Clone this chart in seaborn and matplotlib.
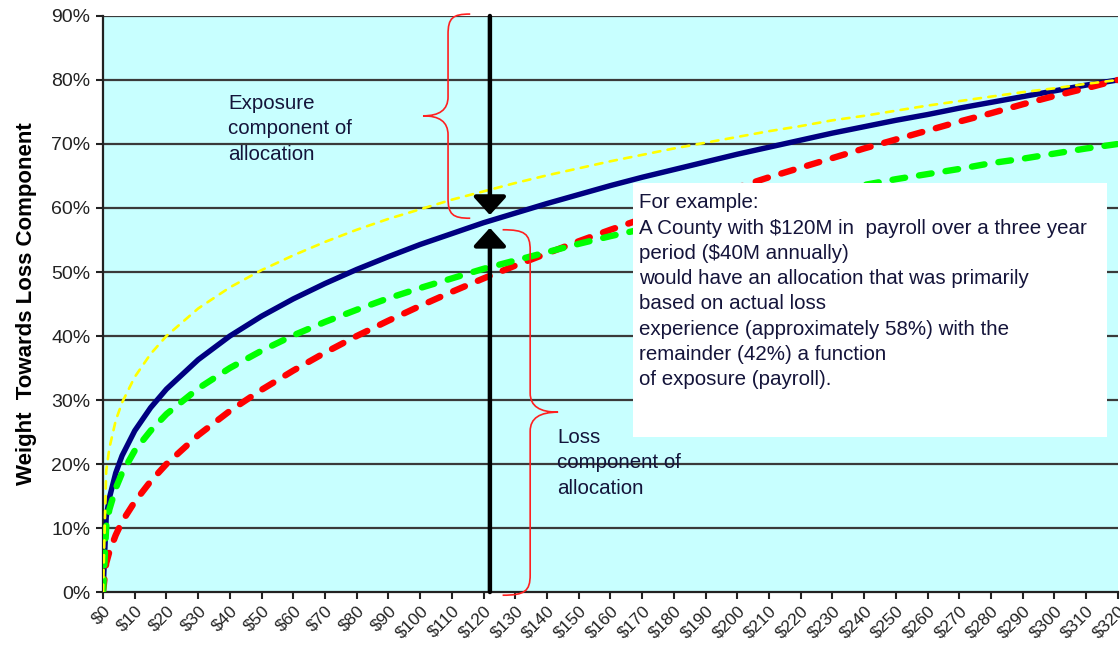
import matplotlib
matplotlib.use("Agg")
import matplotlib.pyplot as plt
import pandas as pd
import seaborn as sns
from matplotlib.path import Path
from matplotlib.patches import PathPatch, Rectangle

# Three-year payroll ($M) and weight given to the loss component (%)
payroll = [0, 1, 2, 4, 6, 10, 15, 20, 30, 40, 50, 60, 70, 80, 90, 100, 110, 120,
           130, 140, 150, 160, 170, 180, 190, 200, 210, 220, 230, 240, 250, 260,
           270, 280, 290, 300, 310, 320]

weight_navy = [0, 11.7, 14.7, 18.6, 21.3, 25.2, 28.8, 31.7, 36.3, 40.0, 43.1, 45.8,
               48.2, 50.4, 52.4, 54.3, 56.0, 57.7, 59.2, 60.7, 62.1, 63.5, 64.8, 66.0,
               67.2, 68.4, 69.5, 70.6, 71.7, 72.7, 73.7, 74.6, 75.6, 76.5, 77.4, 78.3,
               79.2, 80.0]

weight_green = [0, 10.2, 12.9, 16.2, 18.6, 22.1, 25.2, 27.8, 31.8, 35.0, 37.7, 40.1,
                42.2, 44.1, 45.9, 47.5, 49.0, 50.5, 51.8, 53.1, 54.4, 55.6, 56.7, 57.8,
                58.8, 59.8, 60.8, 61.8, 62.7, 63.6, 64.5, 65.3, 66.1, 67.0, 67.7, 68.5,
                69.3, 70.0]

weight_red = [0, 4.5, 6.3, 8.9, 11.0, 14.1, 17.3, 20.0, 24.5, 28.3, 31.6, 34.6,
              37.4, 40.0, 42.4, 44.7, 46.9, 49.0, 51.0, 52.9, 54.8, 56.6, 58.3, 60.0,
              61.6, 63.2, 64.8, 66.3, 67.8, 69.3, 70.7, 72.1, 73.5, 74.8, 76.2, 77.5,
              78.7, 80.0]

weight_yellow = [0, 18.9, 22.5, 26.8, 29.6, 33.6, 37.2, 40.0, 44.3, 47.6, 50.3, 52.6,
                 54.7, 56.6, 58.3, 59.8, 61.3, 62.6, 63.9, 65.1, 66.2, 67.3, 68.3, 69.3,
                 70.2, 71.1, 72.0, 72.8, 73.7, 74.4, 75.2, 76.0, 76.7, 77.4, 78.1, 78.7,
                 79.4, 80.0]

x_ticks = list(range(0, 330, 10))
x_tick_labels = ["\\$" + str(v) for v in x_ticks]
y_ticks = list(range(0, 100, 10))
y_tick_labels = [f"{v}%" for v in y_ticks]

example_payroll = 122
example_weight = 57.7

sns.set_style("ticks", {"axes.facecolor": "#C8FFFF"})
plt.rcParams["font.family"] = ["Liberation Sans", "DejaVu Sans"]

fig = plt.figure(figsize=(11.2, 6.5), dpi=100)
ax = fig.add_axes([0.092, 0.0892, 0.906, 0.8862])

# grid lines
for y in y_ticks[1:]:
    ax.axhline(y, color="#3a3a3a", lw=1.6, zorder=1)

series = [
    (weight_navy, "#000080", 3.9, "-", 2),
    (weight_red, "#FF0000", 4.6, (0, (2.0, 2.2)), 3),
    (weight_green, "#00FF00", 4.6, (0, (2.0, 2.2)), 3.1),
    (weight_yellow, "#FFFF00", 1.9, (0, (2.8, 2.8)), 3.2),
]
for values, color, lw, ls, z in series:
    df = pd.DataFrame({"payroll": payroll, "weight": values})
    sns.lineplot(data=df, x="payroll", y="weight", ax=ax, color=color, lw=lw,
                 linestyle=ls, dash_capstyle="round", solid_capstyle="round",
                 zorder=z, clip_on=True)

# explanatory white box
ax.add_patch(Rectangle((167.2, 24.2), 149.5, 39.7, facecolor="white",
                       edgecolor="none", zorder=5))
text_color = "#14143a"
text_size = 14.8
text_spacing = 1.42
ax.text(169.0, 62.3,
        "For example:\n"
        "A County with \\$120M in  payroll over a three year\n"
        "period (\\$40M annually)\n"
        "would have an allocation that was primarily\n"
        "based on actual loss\n"
        "experience (approximately 58%) with the\n"
        "remainder (42%) a function\n"
        "of exposure (payroll).",
        fontsize=text_size, color=text_color, va="top", ha="left",
        linespacing=text_spacing, zorder=6)

ax.text(39.4, 77.8, "Exposure\ncomponent of\nallocation", fontsize=text_size,
        color=text_color, va="top", ha="left", linespacing=text_spacing, zorder=6)
ax.text(143.2, 25.6, "Loss\ncomponent of\nallocation", fontsize=text_size,
        color=text_color, va="top", ha="left", linespacing=text_spacing, zorder=6)

# arrows pointing at the example point
arrow_style = "-|>,head_length=0.55,head_width=0.5"
ax.annotate("", xy=(example_payroll, example_weight + 1.2), xytext=(example_payroll, 90),
            arrowprops=dict(arrowstyle=arrow_style, color="black", lw=3.2,
                            mutation_scale=20, shrinkA=0, shrinkB=0),
            zorder=7, annotation_clip=False)
ax.annotate("", xy=(example_payroll, example_weight - 0.8), xytext=(example_payroll, 0),
            arrowprops=dict(arrowstyle=arrow_style, color="black", lw=3.2,
                            mutation_scale=20, shrinkA=0, shrinkB=0),
            zorder=7, annotation_clip=False)

# curly braces
def brace(x_end, x_mid, x_tip, y_top, y_tip, y_bot):
    verts = [
        (x_end, y_top),
        (x_mid + (x_end - x_mid) * 0.2, y_top), (x_mid, y_top - 0.6), (x_mid, y_top - 3.2),
        (x_mid, y_tip + 3.0),
        (x_mid, y_tip + 0.9), (x_mid + (x_tip - x_mid) * 0.35, y_tip), (x_tip, y_tip),
        (x_mid + (x_tip - x_mid) * 0.35, y_tip), (x_mid, y_tip - 0.9), (x_mid, y_tip - 3.0),
        (x_mid, y_bot + 3.2),
        (x_mid, y_bot + 0.6), (x_mid + (x_end - x_mid) * 0.2, y_bot), (x_end, y_bot),
    ]
    codes = [Path.MOVETO, Path.CURVE4, Path.CURVE4, Path.CURVE4, Path.LINETO,
             Path.CURVE4, Path.CURVE4, Path.CURVE4, Path.CURVE4, Path.CURVE4, Path.CURVE4,
             Path.LINETO, Path.CURVE4, Path.CURVE4, Path.CURVE4]
    ax.add_patch(PathPatch(Path(verts, codes), facecolor="none", edgecolor="#FF2020",
                           lw=1.2, zorder=6, clip_on=False))

brace(115.8, 108.8, 100.9, 90.3, 74.4, 58.4)
brace(126.0, 134.7, 143.5, 56.6, 28.1, -0.5)

ax.set_xlim(0, 320)
ax.set_ylim(0, 90)
ax.set_xticks(x_ticks)
ax.set_xticklabels(x_tick_labels, rotation=45, ha="right", rotation_mode="anchor",
                   fontsize=12.5, color="#222222")
ax.set_yticks(y_ticks)
ax.set_yticklabels(y_tick_labels, fontsize=14, color="#222222")
ax.tick_params(axis="both", direction="out", length=5, width=1.5, color="#222222", pad=4)
ax.tick_params(axis="x", pad=3)
ax.set_xlabel("")
ax.set_ylabel("Weight  Towards Loss Component", fontsize=16, fontweight="bold",
              color="black", labelpad=10)

for side in ["left", "bottom"]:
    ax.spines[side].set_color("#222222")
    ax.spines[side].set_linewidth(1.6)
ax.spines["top"].set_visible(False)
ax.spines["right"].set_visible(False)

fig.savefig("out.png", dpi=100)
